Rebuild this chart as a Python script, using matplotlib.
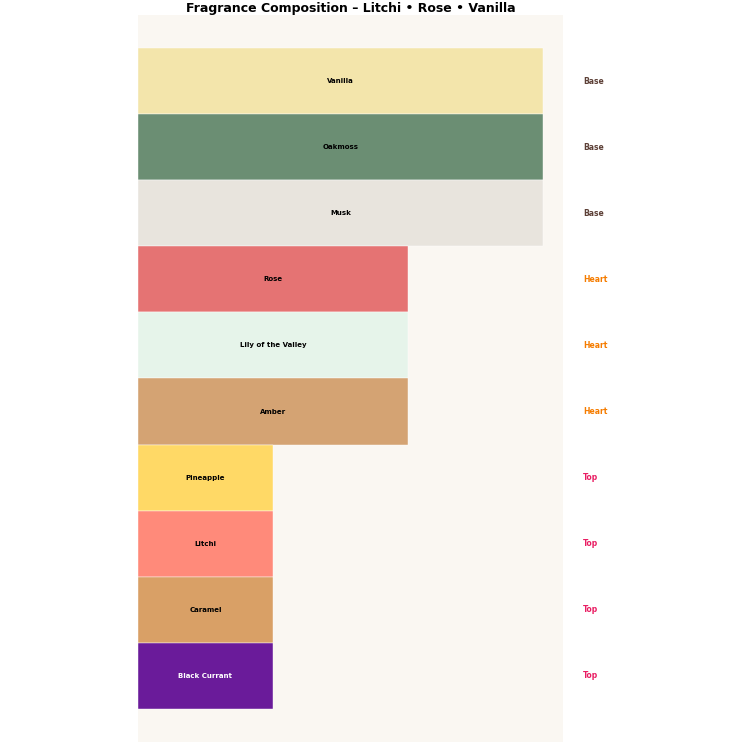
import matplotlib
matplotlib.use('Agg')
import matplotlib.pyplot as plt

# notes from top to bottom
notes = ['Vanilla', 'Oakmoss', 'Musk', 'Rose', 'Lily of the Valley', 'Amber',
         'Pineapple', 'Litchi', 'Caramel', 'Black Currant']
widths = [3, 3, 3, 2, 2, 2, 1, 1, 1, 1]
tiers = ['Base', 'Base', 'Base', 'Heart', 'Heart', 'Heart', 'Top', 'Top', 'Top', 'Top']
colors = ['#f3e5ab', '#6b8e73', '#e8e4dd', '#e57373', '#e6f4ea', '#d4a373',
          '#ffd966', '#ff8a7a', '#d9a066', '#6a1b9a']
text_colors = ['black'] * 9 + ['white']
tier_colors = {'Base': '#5d4037', 'Heart': '#f57c00', 'Top': '#e91e63'}

fig = plt.figure(figsize=(7.46, 7.46), dpi=100)
ax = fig.add_axes([0.185, 0.0054, 0.5697, 0.9745])
ax.set_facecolor('#faf7f2')

ypos = list(range(len(notes)))
ax.barh(ypos, widths, height=1.0, color=colors, edgecolor='white', linewidth=0.3)

for y, w, n, tc, t in zip(ypos, widths, notes, text_colors, tiers):
    ax.text(w / 2, y, n, ha='center', va='center', fontsize=5, fontweight='bold', color=tc)
    ax.text(3.3, y, t, ha='left', va='center', fontsize=5.5, fontweight='bold',
            color=tier_colors[t], clip_on=False)

ax.set_xlim(0, 3.15)
ax.set_ylim(10, -1)
ax.set_xticks([])
ax.set_yticks([])
for s in ax.spines.values():
    s.set_visible(False)

fig.text(0.47, 0.988, 'Fragrance Composition \u2013 Litchi \u2022 Rose \u2022 Vanilla',
         ha='center', va='center', fontsize=9, fontweight='bold')

fig.savefig('out.png', dpi=100, facecolor='white')
